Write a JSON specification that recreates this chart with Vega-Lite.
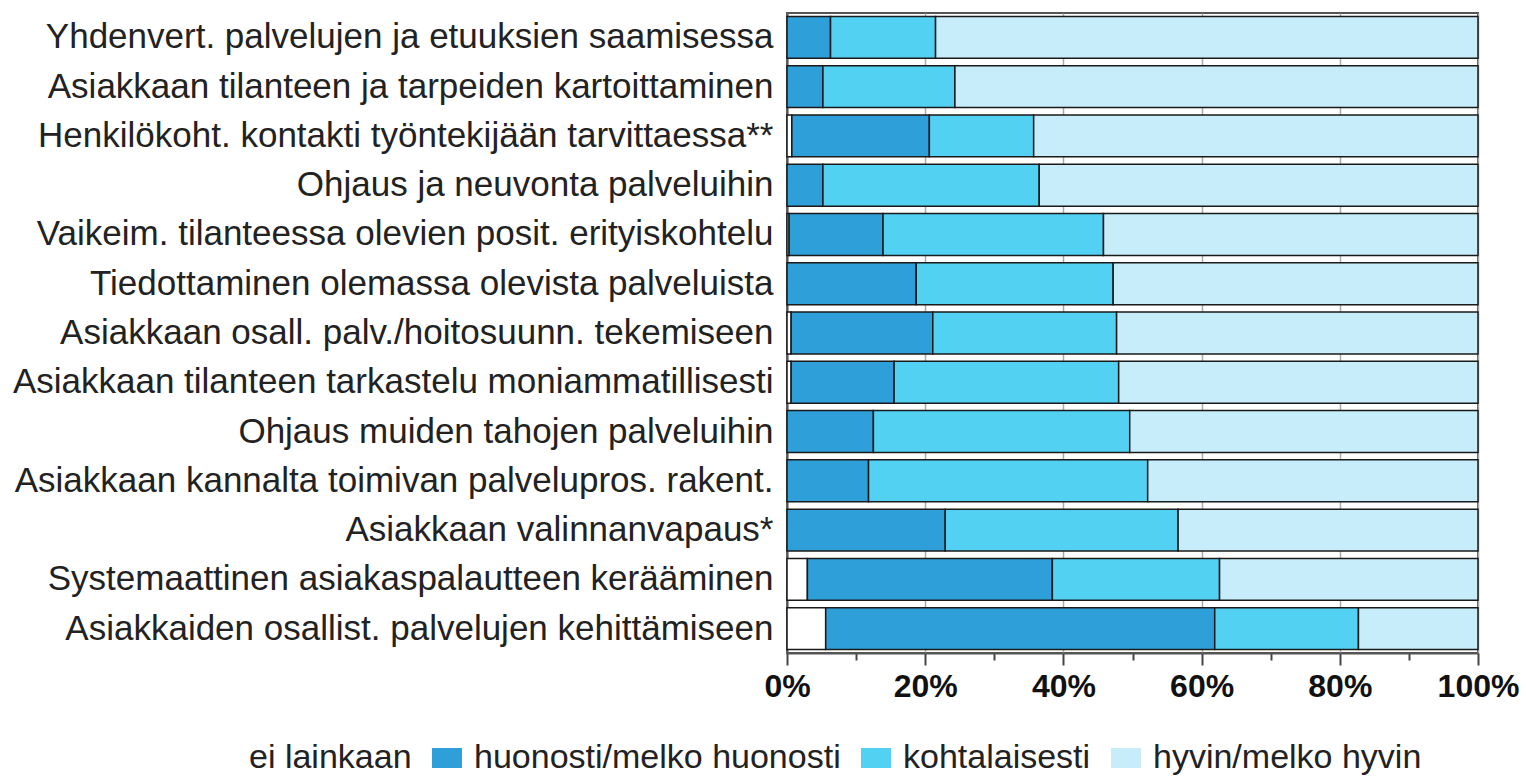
{
  "$schema": "https://vega.github.io/schema/vega-lite/v6.json",
  "autosize": "none",
  "width": 691,
  "height": 640,
  "padding": {"left": 787, "top": 13, "right": 48, "bottom": 124},
  "background": "white",
  "config": {
    "font": "Liberation Sans",
    "view": {"stroke": "#555555", "strokeWidth": 2}
  },
  "data": {
    "values": [
      {"k": "Yhdenvert. palvelujen ja etuuksien saamisessa", "s": "huonosti/melko huonosti", "o": 1, "v": 6.3},
      {"k": "Yhdenvert. palvelujen ja etuuksien saamisessa", "s": "kohtalaisesti", "o": 2, "v": 15.2},
      {"k": "Yhdenvert. palvelujen ja etuuksien saamisessa", "s": "hyvin/melko hyvin", "o": 3, "v": 78.5},
      {"k": "Asiakkaan tilanteen ja tarpeiden kartoittaminen", "s": "huonosti/melko huonosti", "o": 1, "v": 5.2},
      {"k": "Asiakkaan tilanteen ja tarpeiden kartoittaminen", "s": "kohtalaisesti", "o": 2, "v": 19.1},
      {"k": "Asiakkaan tilanteen ja tarpeiden kartoittaminen", "s": "hyvin/melko hyvin", "o": 3, "v": 75.7},
      {"k": "Henkilökoht. kontakti työntekijään tarvittaessa**", "s": "ei lainkaan", "o": 0, "v": 0.7},
      {"k": "Henkilökoht. kontakti työntekijään tarvittaessa**", "s": "huonosti/melko huonosti", "o": 1, "v": 19.9},
      {"k": "Henkilökoht. kontakti työntekijään tarvittaessa**", "s": "kohtalaisesti", "o": 2, "v": 15.1},
      {"k": "Henkilökoht. kontakti työntekijään tarvittaessa**", "s": "hyvin/melko hyvin", "o": 3, "v": 64.3},
      {"k": "Ohjaus ja neuvonta palveluihin", "s": "huonosti/melko huonosti", "o": 1, "v": 5.2},
      {"k": "Ohjaus ja neuvonta palveluihin", "s": "kohtalaisesti", "o": 2, "v": 31.3},
      {"k": "Ohjaus ja neuvonta palveluihin", "s": "hyvin/melko hyvin", "o": 3, "v": 63.5},
      {"k": "Vaikeim. tilanteessa olevien posit. erityiskohtelu", "s": "ei lainkaan", "o": 0, "v": 0.3},
      {"k": "Vaikeim. tilanteessa olevien posit. erityiskohtelu", "s": "huonosti/melko huonosti", "o": 1, "v": 13.6},
      {"k": "Vaikeim. tilanteessa olevien posit. erityiskohtelu", "s": "kohtalaisesti", "o": 2, "v": 31.9},
      {"k": "Vaikeim. tilanteessa olevien posit. erityiskohtelu", "s": "hyvin/melko hyvin", "o": 3, "v": 54.2},
      {"k": "Tiedottaminen olemassa olevista palveluista", "s": "huonosti/melko huonosti", "o": 1, "v": 18.7},
      {"k": "Tiedottaminen olemassa olevista palveluista", "s": "kohtalaisesti", "o": 2, "v": 28.5},
      {"k": "Tiedottaminen olemassa olevista palveluista", "s": "hyvin/melko hyvin", "o": 3, "v": 52.8},
      {"k": "Asiakkaan osall. palv./hoitosuunn. tekemiseen", "s": "ei lainkaan", "o": 0, "v": 0.6},
      {"k": "Asiakkaan osall. palv./hoitosuunn. tekemiseen", "s": "huonosti/melko huonosti", "o": 1, "v": 20.5},
      {"k": "Asiakkaan osall. palv./hoitosuunn. tekemiseen", "s": "kohtalaisesti", "o": 2, "v": 26.6},
      {"k": "Asiakkaan osall. palv./hoitosuunn. tekemiseen", "s": "hyvin/melko hyvin", "o": 3, "v": 52.3},
      {"k": "Asiakkaan tilanteen tarkastelu moniammatillisesti", "s": "ei lainkaan", "o": 0, "v": 0.6},
      {"k": "Asiakkaan tilanteen tarkastelu moniammatillisesti", "s": "huonosti/melko huonosti", "o": 1, "v": 14.9},
      {"k": "Asiakkaan tilanteen tarkastelu moniammatillisesti", "s": "kohtalaisesti", "o": 2, "v": 32.5},
      {"k": "Asiakkaan tilanteen tarkastelu moniammatillisesti", "s": "hyvin/melko hyvin", "o": 3, "v": 52.0},
      {"k": "Ohjaus muiden tahojen palveluihin", "s": "huonosti/melko huonosti", "o": 1, "v": 12.5},
      {"k": "Ohjaus muiden tahojen palveluihin", "s": "kohtalaisesti", "o": 2, "v": 37.1},
      {"k": "Ohjaus muiden tahojen palveluihin", "s": "hyvin/melko hyvin", "o": 3, "v": 50.4},
      {"k": "Asiakkaan kannalta toimivan palvelupros. rakent.", "s": "huonosti/melko huonosti", "o": 1, "v": 11.8},
      {"k": "Asiakkaan kannalta toimivan palvelupros. rakent.", "s": "kohtalaisesti", "o": 2, "v": 40.4},
      {"k": "Asiakkaan kannalta toimivan palvelupros. rakent.", "s": "hyvin/melko hyvin", "o": 3, "v": 47.8},
      {"k": "Asiakkaan valinnanvapaus*", "s": "huonosti/melko huonosti", "o": 1, "v": 22.9},
      {"k": "Asiakkaan valinnanvapaus*", "s": "kohtalaisesti", "o": 2, "v": 33.7},
      {"k": "Asiakkaan valinnanvapaus*", "s": "hyvin/melko hyvin", "o": 3, "v": 43.4},
      {"k": "Systemaattinen asiakaspalautteen kerääminen", "s": "ei lainkaan", "o": 0, "v": 2.95},
      {"k": "Systemaattinen asiakaspalautteen kerääminen", "s": "huonosti/melko huonosti", "o": 1, "v": 35.45},
      {"k": "Systemaattinen asiakaspalautteen kerääminen", "s": "kohtalaisesti", "o": 2, "v": 24.2},
      {"k": "Systemaattinen asiakaspalautteen kerääminen", "s": "hyvin/melko hyvin", "o": 3, "v": 37.4},
      {"k": "Asiakkaiden osallist. palvelujen kehittämiseen", "s": "ei lainkaan", "o": 0, "v": 5.6},
      {"k": "Asiakkaiden osallist. palvelujen kehittämiseen", "s": "huonosti/melko huonosti", "o": 1, "v": 56.3},
      {"k": "Asiakkaiden osallist. palvelujen kehittämiseen", "s": "kohtalaisesti", "o": 2, "v": 20.8},
      {"k": "Asiakkaiden osallist. palvelujen kehittämiseen", "s": "hyvin/melko hyvin", "o": 3, "v": 17.3}
    ]
  },
  "mark": {"type": "bar", "stroke": "#1a1a1a", "strokeWidth": 1.5},
  "encoding": {
    "y": {
      "field": "k",
      "type": "nominal",
      "sort": null,
      "scale": {"paddingInner": 0.15, "paddingOuter": 0.07},
      "axis": {
        "title": null,
        "ticks": false,
        "domain": true,
        "domainColor": "#555555",
        "domainWidth": 2,
        "labelFontSize": 35,
        "labelColor": "#222222",
        "labelPadding": 14,
        "labelLimit": 1000,
        "grid": false
      }
    },
    "x": {
      "field": "v",
      "type": "quantitative",
      "stack": "zero",
      "scale": {"domain": [0, 100], "nice": false},
      "axis": {
        "title": null,
        "values": [0, 10, 20, 30, 40, 50, 60, 70, 80, 90, 100],
        "labelExpr": "datum.value % 20 == 0 ? datum.value + '%' : ''",
        "labelFontSize": 32,
        "labelFontWeight": "bold",
        "labelColor": "#111111",
        "labelPadding": 6,
        "labelFlush": false,
        "domainColor": "#555555",
        "domainWidth": 2,
        "tickColor": "#444444",
        "tickWidth": 2,
        "tickSize": {"condition": {"test": "datum.value % 20 == 0", "value": 12}, "value": 7},
        "grid": true,
        "gridColor": "#aaaaaa",
        "gridWidth": 1.5,
        "gridOpacity": {"condition": {"test": "datum.value % 20 == 0", "value": 1}, "value": 0}
      }
    },
    "fill": {
      "field": "s",
      "type": "nominal",
      "scale": {
        "domain": ["ei lainkaan", "huonosti/melko huonosti", "kohtalaisesti", "hyvin/melko hyvin"],
        "range": ["#ffffff", "#2e9fd8", "#52d1f3", "#c7edfa"]
      },
      "legend": {
        "title": null,
        "orient": "none",
        "direction": "horizontal",
        "legendX": -582,
        "legendY": 728,
        "padding": 0,
        "symbolType": "M-1.5,-1H1.5V1H-1.5Z",
        "symbolSize": 400,
        "symbolStrokeWidth": 0,
        "symbolOpacity": 1,
        "labelFontSize": 34,
        "labelColor": "#222222",
        "labelOffset": 10,
        "columnPadding": 18,
        "labelLimit": 1000
      }
    },
    "order": {"field": "o", "type": "quantitative"}
  }
}
